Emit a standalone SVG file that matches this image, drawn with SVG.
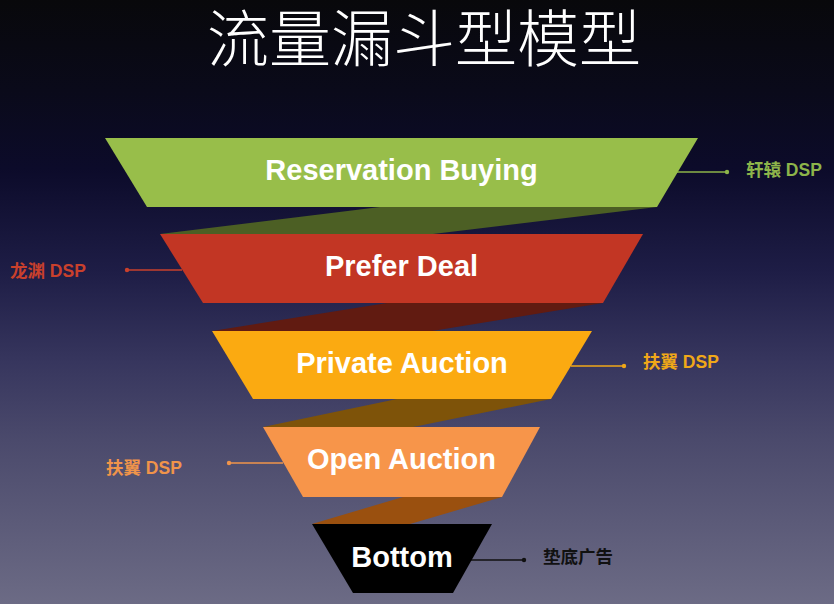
<svg xmlns="http://www.w3.org/2000/svg" width="834" height="604" viewBox="0 0 834 604">
<defs>
<linearGradient id="bg" x1="0" y1="0" x2="0" y2="1">
<stop offset="0" stop-color="#08080b"/>
<stop offset="0.15" stop-color="#0a0a1a"/>
<stop offset="0.28" stop-color="#0c0b2a"/>
<stop offset="0.45" stop-color="#1e1d46"/>
<stop offset="0.6" stop-color="#37365e"/>
<stop offset="0.73" stop-color="#4b4a6c"/>
<stop offset="1" stop-color="#6c6b85"/>
</linearGradient>
<style>
.stage{font-family:"Liberation Sans",Arial,sans-serif;font-weight:bold;font-size:29px;fill:#ffffff;text-anchor:middle}
.lbl{font-family:"Liberation Sans","Noto Sans CJK SC",sans-serif;font-weight:bold;font-size:17.5px}
.lead{stroke-width:1.3;fill:none}
.title{font-family:"Liberation Sans","Noto Sans CJK SC",sans-serif;font-weight:300;font-size:62px;fill:#ffffff;text-anchor:middle}
</style>
</defs>
<rect width="834" height="604" fill="url(#bg)"/>
<text id="title" class="title" x="424" y="62">流量漏斗型模型</text>

<g id="connectors">
<polygon points="380,207 657,207 433,234 160,234" fill="#4c5f24"/>
<polygon points="387,303 603,303 432,331 212,331" fill="#611b11"/>
<polygon points="397,399 551,399 413,427 263,427" fill="#7e5309"/>
<polygon points="403,497 502,497 410,524 312,524" fill="#9a500f"/>
<g class="lead">
<line x1="677" y1="172" x2="727" y2="172" stroke="#8db54a"/>
<circle cx="727" cy="172" r="2.2" fill="#8db54a"/>
<line x1="182" y1="270" x2="127" y2="270" stroke="#c9402c"/>
<circle cx="127" cy="270" r="2.2" fill="#c9402c"/>
<line x1="571" y1="366" x2="624" y2="366" stroke="#f0a818"/>
<circle cx="624" cy="366" r="2.2" fill="#f0a818"/>
<line x1="283" y1="463" x2="229" y2="463" stroke="#f0944a"/>
<circle cx="229" cy="463" r="2.2" fill="#f0944a"/>
<line x1="471" y1="560" x2="524" y2="560" stroke="#111111"/>
<circle cx="524" cy="560" r="2.2" fill="#111111"/>
</g>
</g>

<g id="reservation-buying">
<polygon points="105,138 698,138 657,207 147,207" fill="#98be4a"/>
<text class="stage" x="401.5" y="180">Reservation Buying</text>
</g>
<g id="prefer-deal">
<polygon points="160,234 643,234 603,303 203,303" fill="#c23624"/>
<text class="stage" x="401.5" y="276">Prefer Deal</text>
</g>
<g id="private-auction">
<polygon points="212,331 592,331 551,399 253,399" fill="#fbaa11"/>
<text class="stage" x="402" y="373">Private Auction</text>
</g>
<g id="open-auction">
<polygon points="263,427 540,427 502,497 303,497" fill="#f7954a"/>
<text class="stage" x="401.5" y="469">Open Auction</text>
</g>
<g id="bottom">
<polygon points="312,524 492,524 453,593 353,593" fill="#000000"/>
<text class="stage" x="402" y="567">Bottom</text>
</g>

<g id="label-xuanyuan"><text class="lbl" x="746" y="176" fill="#8db54a">轩辕 DSP</text></g>
<g id="label-longyuan"><text class="lbl" x="10" y="277" fill="#c9402c">龙渊 DSP</text></g>
<g id="label-fuyi-right"><text class="lbl" x="643" y="368" fill="#f0a818">扶翼 DSP</text></g>
<g id="label-fuyi-left"><text class="lbl" x="106" y="474" fill="#f0944a">扶翼 DSP</text></g>
<g id="label-diandi"><text class="lbl" x="543" y="563" fill="#111111">垫底广告</text></g>
</svg>
